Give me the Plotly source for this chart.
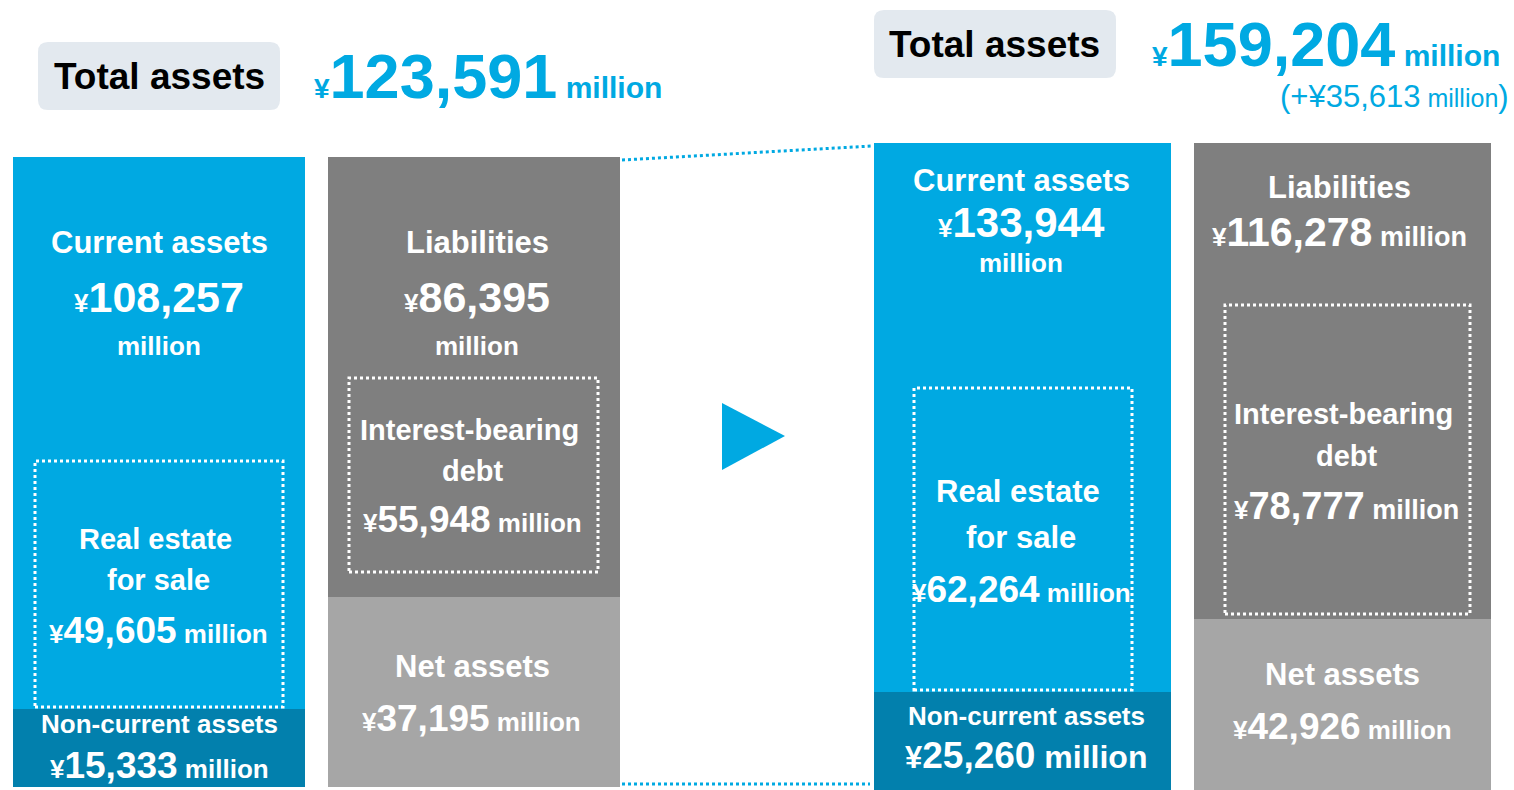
import plotly.graph_objects as go

# ---------------- data ----------------
periods = ["Previous", "Current"]
total_assets = [123591, 159204]
current_assets = [108257, 133944]
noncurrent_assets = [15333, 25260]
real_estate_for_sale = [49605, 62264]
liabilities = [86395, 116278]
interest_bearing_debt = [55948, 78777]
net_assets = [37195, 42926]
increase = 35613

W, H = 1514, 790
LBLUE = "#00a9e2"
DBLUE = "#0280ad"
DGRAY = "#7f7f7f"
LGRAY = "#a6a6a6"
BOX = "#e3e9ef"
FONT = "Arial, Liberation Sans, sans-serif"
NARROW = "Liberation Sans Narrow, Arial Narrow, Arial, sans-serif"

fig = go.Figure()

# column geometry (pixels)
cols = [
    dict(asset_x=159, debt_x=474, width=292, ax="x", ay="y"),
    dict(asset_x=1022.5, debt_x=1342.5, width=297, ax="x2", ay="y2"),
]

for i, c in enumerate(cols):
    fig.add_trace(go.Bar(x=[c["asset_x"]], y=[noncurrent_assets[i]], base=[0], width=c["width"],
                         marker=dict(color=DBLUE, line=dict(width=0)), xaxis=c["ax"], yaxis=c["ay"],
                         hoverinfo="skip", showlegend=False))
    fig.add_trace(go.Bar(x=[c["asset_x"]], y=[current_assets[i]], base=[noncurrent_assets[i]], width=c["width"],
                         marker=dict(color=LBLUE, line=dict(width=0)), xaxis=c["ax"], yaxis=c["ay"],
                         hoverinfo="skip", showlegend=False))
    fig.add_trace(go.Bar(x=[c["debt_x"]], y=[net_assets[i]], base=[0], width=c["width"],
                         marker=dict(color=LGRAY, line=dict(width=0)), xaxis=c["ax"], yaxis=c["ay"],
                         hoverinfo="skip", showlegend=False))
    fig.add_trace(go.Bar(x=[c["debt_x"]], y=[liabilities[i]], base=[net_assets[i]], width=c["width"],
                         marker=dict(color=DGRAY, line=dict(width=0)), xaxis=c["ax"], yaxis=c["ay"],
                         hoverinfo="skip", showlegend=False))

def py(p):
    return 1 - p / H

def px(p):
    return p / W

ax_common = dict(range=[0, W], visible=False, fixedrange=True)
fig.update_layout(
    width=W, height=H, margin=dict(l=0, r=0, t=0, b=0),
    paper_bgcolor="white", plot_bgcolor="rgba(0,0,0,0)",
    barmode="overlay", bargap=0,
    xaxis=dict(domain=[0, 1], anchor="y", **ax_common),
    yaxis=dict(domain=[py(787), py(157)], range=[0, total_assets[0]], visible=False, fixedrange=True),
    xaxis2=dict(domain=[0, 1], anchor="y2", **ax_common),
    yaxis2=dict(domain=[0, py(143)], range=[total_assets[1] * 5 / 652, total_assets[1]],
                visible=False, fixedrange=True),
    font=dict(family=FONT, color="white"),
)

shapes = []
def rect(x0, y0, x1, y1, **kw):
    shapes.append(dict(type="rect", xref="paper", yref="paper",
                       x0=px(x0), x1=px(x1), y0=py(y1), y1=py(y0), **kw))

def dotbox(x0, y0, x1, y1):
    rect(x0, y0, x1, y1, line=dict(color="white", width=3, dash="dot"), fillcolor="rgba(0,0,0,0)", layer="above")

def _conv(path):
    out = []
    for tok in path.split():
        if "," in tok:
            a, b = tok.split(",")
            out.append(f"{float(a)},{py(float(b))}")
        else:
            out.append(tok)
    return " ".join(out)

def rounded(x0, y0, x1, y1, r=10):
    path = (f"M {x0+r},{y0} L {x1-r},{y0} Q {x1},{y0} {x1},{y0+r} L {x1},{y1-r} Q {x1},{y1} {x1-r},{y1} "
            f"L {x0+r},{y1} Q {x0},{y1} {x0},{y1-r} L {x0},{y0+r} Q {x0},{y0} {x0+r},{y0} Z")
    shapes.append(dict(type="path", xref="x", yref="paper", path=_conv(path), fillcolor=BOX,
                       line=dict(width=0), layer="below"))

rounded(38, 42, 280, 110)
rounded(874, 10, 1116, 78)

# dotted boxes
dotbox(35, 461, 283, 707)
dotbox(349, 378, 598, 572)
dotbox(914, 388, 1132, 690)
dotbox(1225, 305, 1470, 614)

# connecting dotted lines
shapes.append(dict(type="line", xref="x", yref="paper", x0=622, y0=py(160), x1=872, y1=py(146),
                   line=dict(color=LBLUE, width=3, dash="dot")))
shapes.append(dict(type="line", xref="x", yref="paper", x0=622, y0=py(784), x1=870, y1=py(784),
                   line=dict(color=LBLUE, width=3, dash="dot")))
# arrow triangle
shapes.append(dict(type="path", xref="x", yref="paper",
                   path=_conv("M 722,403 L 785,436 L 722,470 Z"), fillcolor=LBLUE, line=dict(width=0)))

fig.update_layout(shapes=shapes)

def yen(v, big, small, mill=None, mill_size=None):
    s = f"<span style='font-size:{small}px'>¥</span><span style='font-size:{big}px'>{v:,}</span>"
    if mill:
        s += f"<span style='font-size:{mill_size}px'> million</span>"
    return s

def txt(x, y, text, size=27, color="white", family=FONT, bold=True, xanchor="center"):
    t = f"<b>{text}</b>" if bold else text
    fig.add_annotation(x=px(x), y=py(y), xref="paper", yref="paper", text=t, showarrow=False,
                       xanchor=xanchor, yanchor="middle", font=dict(size=size, color=color, family=family))

# headers
txt(159, 77, "Total assets", size=37, color="black", family=NARROW)
txt(312, 76, yen(total_assets[0], 63, 28, True, 30), size=63, color=LBLUE, xanchor="left")
txt(995, 45, "Total assets", size=37, color="black", family=NARROW)
txt(1150, 44, yen(total_assets[1], 63, 28, True, 30), size=63, color=LBLUE, xanchor="left")
txt(1511, 97, f"(+¥{increase:,}<span style='font-size:25px'> million</span>)", size=31, color=LBLUE,
    bold=False, xanchor="right")

# left asset column
txt(159, 243, "Current assets", size=31)
txt(159, 297, yen(current_assets[0], 43, 26), size=43)
txt(159, 346, "million", size=26)
txt(155, 539, "Real estate", size=29)
txt(158, 580, "for sale", size=29)
txt(158, 630, yen(real_estate_for_sale[0], 37, 26, True, 26), size=37)
txt(159, 724, "Non-current assets", size=26)
txt(159, 765, yen(noncurrent_assets[0], 37, 26, True, 26), size=37)

# left liabilities column
txt(477, 243, "Liabilities", size=31)
txt(477, 297, yen(liabilities[0], 43, 26), size=43)
txt(477, 346, "million", size=26)
txt(469, 430, "Interest-bearing", size=29)
txt(473, 471, "debt", size=29)
txt(472, 519, yen(interest_bearing_debt[0], 37, 26, True, 26), size=37)
txt(472, 666, "Net assets", size=31)
txt(471, 718, yen(net_assets[0], 37, 26, True, 26), size=37)

# right asset column
txt(1021, 180, "Current assets", size=31)
txt(1021, 223, yen(current_assets[1], 42, 26), size=42)
txt(1021, 263, "million", size=26)
txt(1018, 491, "Real estate", size=31)
txt(1021, 537, "for sale", size=31)
txt(1021, 589, yen(real_estate_for_sale[1], 37, 26, True, 26), size=37)
txt(1026, 716, "Non-current assets", size=26)
txt(1026, 755, yen(noncurrent_assets[1], 37, 31, True, 32), size=37)

# right liabilities column
txt(1339, 188, "Liabilities", size=31)
txt(1339, 232, yen(liabilities[1], 41, 26, True, 27), size=41)
txt(1343, 414, "Interest-bearing", size=29)
txt(1347, 456, "debt", size=29)
txt(1346, 506, yen(interest_bearing_debt[1], 38, 26, True, 27), size=38)
txt(1342, 674, "Net assets", size=31)
txt(1342, 726, yen(net_assets[1], 37, 26, True, 26), size=37)

fig.write_html("out.html", config={"displayModeBar": False},
               post_script="document.body.style.margin='0';document.body.style.overflow='hidden';")
